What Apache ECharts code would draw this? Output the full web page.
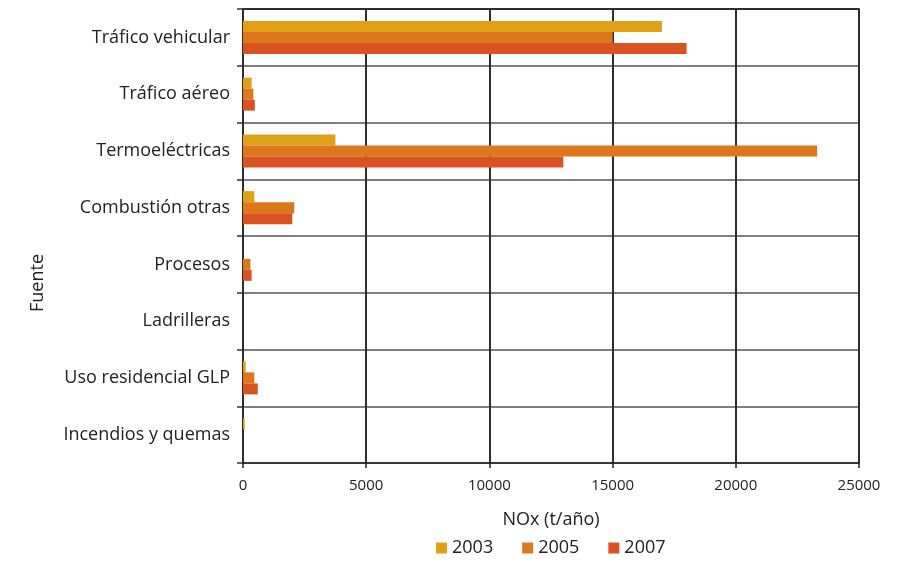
<!DOCTYPE html>
<html>
<head>
<meta charset="utf-8">
<script src="https://cdn.jsdelivr.net/npm/echarts@6/dist/echarts.min.js"></script>
<style>
html,body{margin:0;padding:0;background:#fff;}
#chart{width:901px;height:562px;}
</style>
</head>
<body>
<div id="chart"></div>
<script>
var categories = ["Tráfico vehicular", "Tráfico aéreo", "Termoeléctricas", "Combustión otras", "Procesos", "Ladrilleras", "Uso residencial GLP", "Incendios y quemas"];
var seriesNames = ["2003", "2005", "2007"];
var values2003 = [17000, 350, 3750, 460, 0, 0, 110, 70];
var values2005 = [15000, 420, 23300, 2080, 300, 0, 460, 0];
var values2007 = [18000, 480, 13000, 2000, 350, 0, 600, 0];
var xTicks = [0, 5000, 10000, 15000, 20000, 25000];

var colors = ["#E0A015", "#DE771C", "#D95220"];
var font = "Open Sans";
var chart = echarts.init(document.getElementById('chart'));
var data = [values2003, values2005, values2007];
chart.setOption({
  animation: false,
  textStyle: {fontFamily: font},
  grid: {left: 243, right: 42, top: 9, bottom: 99},
  legend: {
    data: seriesNames, top: 534, left: 431,
    itemWidth: 11, itemHeight: 11, itemGap: 29,
    icon: 'rect',
    textStyle: {fontFamily: font, fontSize: 18, color: '#222'}
  },
  graphic: [{
    type: 'text', x: 38, y: 283, rotation: Math.PI / 2,
    style: {text: 'Fuente', fontFamily: font, fontSize: 18, fill: '#222', textAlign: 'center', textVerticalAlign: 'middle'}
  }],
  xAxis: [{
    type: 'value', min: xTicks[0], max: xTicks[xTicks.length - 1], interval: 5000,
    name: 'NOx (t/año)', nameLocation: 'middle', nameGap: 48,
    nameTextStyle: {fontFamily: font, fontSize: 18, color: '#222'},
    axisLine: {show: true, lineStyle: {color: '#222', width: 1.5}},
    axisTick: {show: true, length: 5, lineStyle: {color: '#222', width: 1.5}},
    axisLabel: {fontFamily: font, fontSize: 15, color: '#222', margin: 15,
      formatter: function (v) { return String(v); }},
    splitLine: {show: true, lineStyle: {color: '#2e2e2e', width: 2}}
  }, {
    type: 'value', position: 'top', min: xTicks[0], max: xTicks[xTicks.length - 1], interval: 5000,
    axisLine: {show: true, onZero: false, lineStyle: {color: '#2e2e2e', width: 1.8}},
    axisTick: {show: false}, axisLabel: {show: false}, splitLine: {show: false}
  }],
  yAxis: {
    type: 'category', data: categories, inverse: true,
    axisLine: {show: true, lineStyle: {color: '#2e2e2e', width: 2}},
    axisTick: {show: true, length: 6, lineStyle: {color: '#333', width: 1.5}},
    axisLabel: {fontFamily: font, fontSize: 18, color: '#222', margin: 13},
    splitLine: {show: true, lineStyle: {color: '#555', width: 1.5}}
  },
  series: seriesNames.map(function (n, i) {
    return {
      name: n, type: 'bar', data: data[i], xAxisIndex: 0,
      barWidth: 11, barGap: '0%',
      itemStyle: {color: colors[i]}
    };
  })
});
</script>
</body>
</html>
